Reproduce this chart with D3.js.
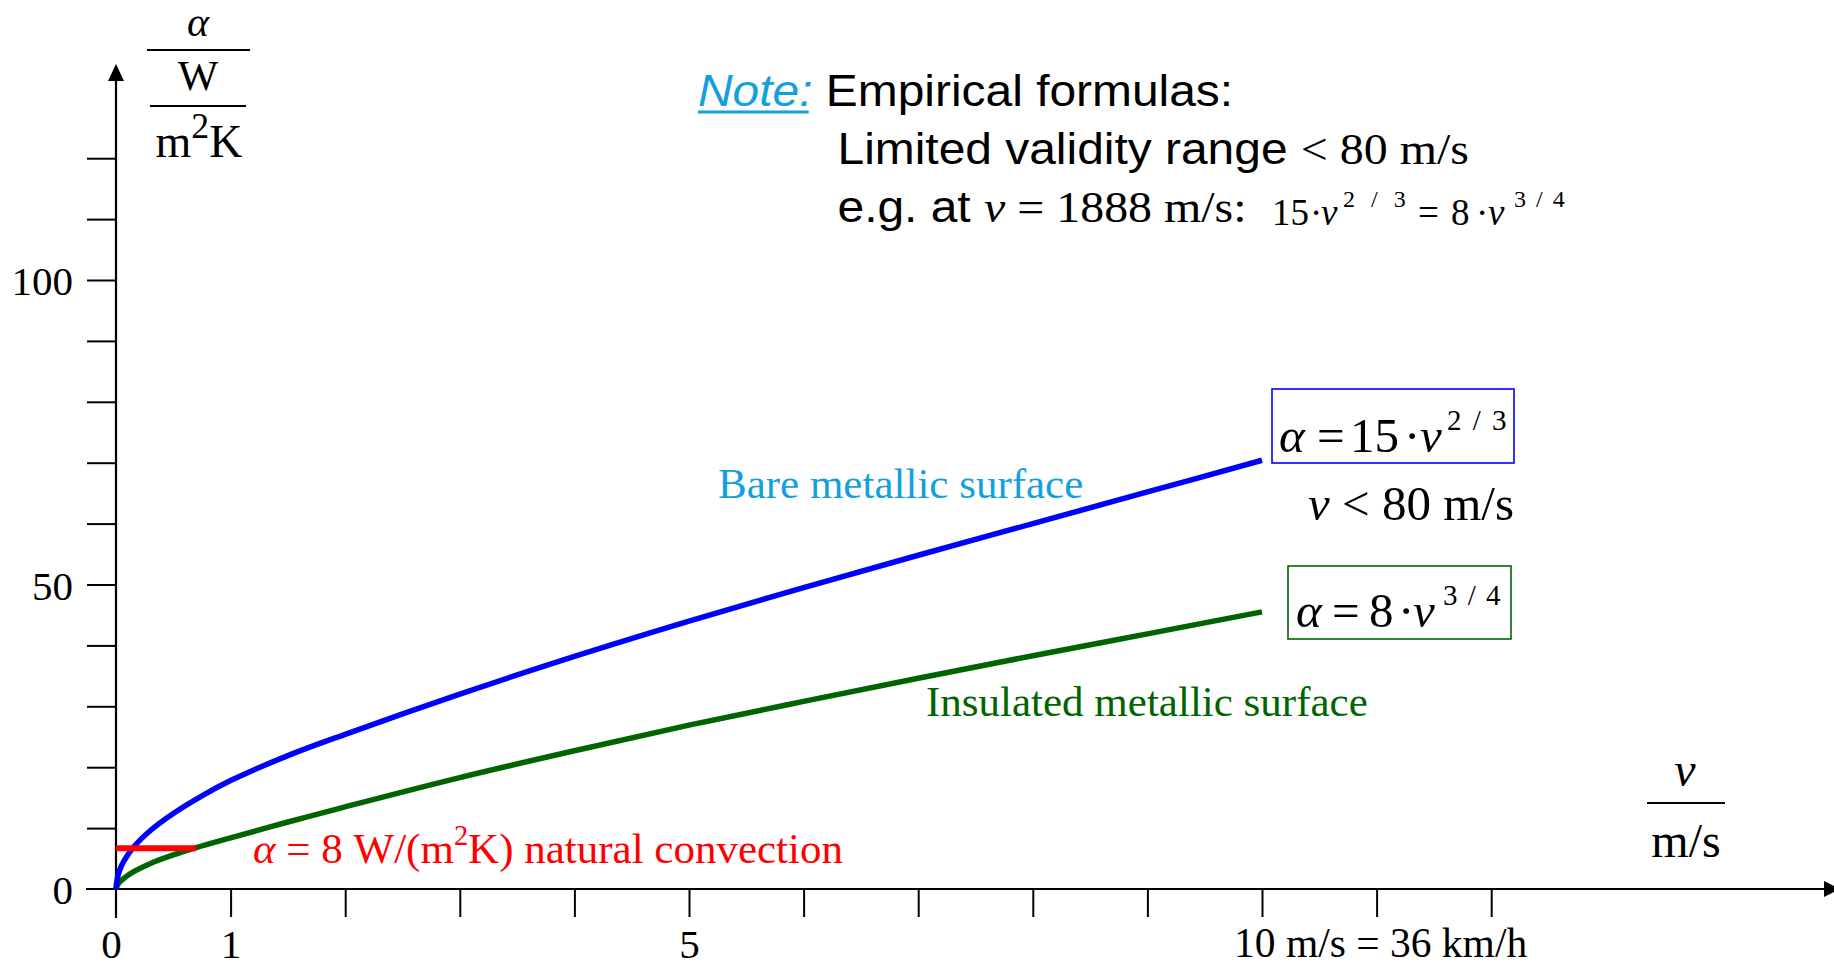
<!DOCTYPE html>
<html>
<head>
<meta charset="utf-8">
<script src="https://cdn.jsdelivr.net/npm/d3@7/dist/d3.min.js"></script>
<style>
  html, body { margin: 0; padding: 0; background: #fff; }
  svg { display: block; }
</style>
</head>
<body>
<svg id="chart" width="1834" height="969"></svg>
<script>
// ---------------- data ----------------
const bareSpeeds = [0, 0.01, 0.03, 0.07, 0.15, 0.3, 0.5, 0.75, 1, 1.5, 2, 3, 4, 5, 6, 7, 8, 9, 10];
const alphaBare = [0, 1.6, 3.0, 4.6, 6.8, 9.6, 12.4, 15.3, 17.8, 21.9, 25.4, 32.0, 38.2, 44.0, 49.5, 54.8, 60.0, 65.2, 70.4];
const insulatedSpeeds = [0, 0.01, 0.03, 0.08, 0.15, 0.3, 0.5, 0.7, 1, 1.5, 2, 3, 4, 5, 6, 7, 8, 9, 10];
const alphaInsulated = [0, 0.5, 1.1, 1.9, 2.8, 4.2, 5.6, 6.8, 8.4, 11.0, 13.5, 18.3, 22.7, 26.9, 30.8, 34.6, 38.3, 41.9, 45.5];
const naturalSpeeds = [0, 0.7];
const naturalAlpha = [6.7, 6.7];

const xTickValues = [1, 2, 3, 4, 5, 6, 7, 8, 9, 10, 11, 12];
const yTickValues = [10, 20, 30, 40, 50, 60, 70, 80, 90, 100, 110, 120];
const yTickLabels = [0, 50, 100];
const xTickLabels = [0, 1, 5];
const xSpecialLabel = { value: 10, text: "10 m/s = 36 km/h" };

// ---------------- setup ----------------
const SERIF = "'Liberation Serif', 'Times New Roman', serif";
const SANS = "'Liberation Sans', Arial, sans-serif";
const BLUE = "#0000ff", GREEN = "#006400", RED = "#ff0000", LIGHTBLUE = "#13a0dc";

const svg = d3.select("#chart");
const x = d3.scaleLinear().domain([0, 12]).range([116, 116 + 12 * 114.6]);
const y = d3.scaleLinear().domain([0, 120]).range([889, 889 - 120 * 6.09]);

// flowing math-like text with italics and superscripts
function mathText(parent, px, py, size, anchor, color, parts, family) {
  const t = parent.append("text")
    .attr("x", px).attr("y", py)
    .attr("font-family", family || SERIF)
    .attr("font-size", size)
    .attr("text-anchor", anchor)
    .attr("fill", color);
  let raised = false;
  parts.forEach(p => {
    const s = t.append("tspan").text(p.t);
    if (p.italic) s.attr("font-style", "italic");
    if (p.family) s.attr("font-family", p.family);
    let dy = 0;
    if (p.sup && !raised) { dy = -0.42 * size; raised = true; }
    else if (!p.sup && raised) { dy = 0.42 * size; raised = false; }
    if (dy) s.attr("dy", dy);
    if (p.sup) s.attr("font-size", size * (p.supScale || 0.62));
    if (p.dx) s.attr("dx", p.dx);
    if (p.fill) s.attr("fill", p.fill);
  });
  return t;
}
// individually placed pieces of a formula
function placedFormula(parent, baseline, size, color, parts) {
  const g = parent.append("g").attr("fill", color).attr("font-family", SERIF);
  parts.forEach(p => {
    const t = g.append("text")
      .attr("x", p.x)
      .attr("y", baseline - (p.raise || 0))
      .attr("font-size", p.fs || size)
      .text(p.t);
    if (p.italic) t.attr("font-style", "italic");
    if (p.ls) t.attr("letter-spacing", p.ls);
  });
  return g;
}

// ---------------- axes ----------------
const yAxisTicks = svg.append("g")
  .attr("transform", `translate(${x(0)},0)`)
  .call(d3.axisLeft(y).tickValues(yTickValues).tickSize(29).tickFormat(""));
yAxisTicks.select(".domain").remove();
yAxisTicks.selectAll("line").attr("stroke", "#000").attr("stroke-width", 2);

const xAxisTicks = svg.append("g")
  .attr("transform", `translate(0,${y(0)})`)
  .call(d3.axisBottom(x).tickValues(xTickValues).tickSize(28).tickFormat(""));
xAxisTicks.select(".domain").remove();
xAxisTicks.selectAll("line").attr("stroke", "#000").attr("stroke-width", 2);

svg.append("line").attr("x1", x(0)).attr("x2", x(0)).attr("y1", y(0) + 29).attr("y2", 72)
  .attr("stroke", "#000").attr("stroke-width", 2.2);
svg.append("line").attr("x1", x(0) - 30).attr("x2", 1828).attr("y1", y(0)).attr("y2", y(0))
  .attr("stroke", "#000").attr("stroke-width", 2.2);
svg.append("path").attr("d", `M${x(0)},64 L${x(0) - 8},81 L${x(0) + 8},81 Z`).attr("fill", "#000");
svg.append("path").attr("d", `M1840,${y(0)} L1824,${y(0) - 8} L1824,${y(0) + 8} Z`).attr("fill", "#000");

const yLab = svg.append("g")
  .attr("transform", `translate(${x(0)},0)`)
  .call(d3.axisLeft(y).tickValues(yTickLabels).tickSize(0).tickPadding(43).tickFormat(d3.format("d")));
yLab.select(".domain").remove();
yLab.selectAll("text").attr("font-family", SERIF).attr("font-size", 41).attr("fill", "#000").attr("dy", "0.36em");

const xLab = svg.append("g")
  .attr("transform", `translate(0,${y(0)})`)
  .call(d3.axisBottom(x).tickValues(xTickLabels).tickSize(0).tickPadding(54).tickFormat(d3.format("d")));
xLab.select(".domain").remove();
xLab.selectAll("text").attr("font-family", SERIF).attr("font-size", 41).attr("fill", "#000").attr("dy", "0.36em");
xLab.selectAll(".tick").filter(d => d === 0).select("text").attr("dx", -5);
svg.append("text")
  .attr("x", x(xSpecialLabel.value) - 28).attr("y", 957)
  .attr("font-family", SERIF).attr("font-size", 41.5).attr("fill", "#000")
  .text(xSpecialLabel.text);

// ---------------- axis titles ----------------
mathText(svg, 198, 36, 42, "middle", "#000", [{ t: "α", italic: true }]);
svg.append("line").attr("x1", 147).attr("x2", 250).attr("y1", 50).attr("y2", 50).attr("stroke", "#000").attr("stroke-width", 2);
mathText(svg, 198, 90, 43, "middle", "#000", [{ t: "W" }]);
svg.append("line").attr("x1", 150).attr("x2", 246).attr("y1", 106).attr("y2", 106).attr("stroke", "#000").attr("stroke-width", 2);
mathText(svg, 199, 157, 46, "middle", "#000", [{ t: "m" }, { t: "2", sup: true, supScale: 0.78 }, { t: "K" }]);

mathText(svg, 1685, 786, 48, "middle", "#000", [{ t: "v", italic: true }]);
svg.append("line").attr("x1", 1647).attr("x2", 1725).attr("y1", 803).attr("y2", 803).attr("stroke", "#000").attr("stroke-width", 2);
mathText(svg, 1686, 857, 48, "middle", "#000", [{ t: "m/s" }]);

// ---------------- curves ----------------
const line = d3.line().x(d => x(d[0])).y(d => y(d[1])).curve(d3.curveCatmullRom.alpha(0.5));
svg.append("path").datum(insulatedSpeeds.map((v, i) => [v, alphaInsulated[i]]))
  .attr("d", line).attr("fill", "none").attr("stroke", GREEN).attr("stroke-width", 5.5);
svg.append("path").datum(bareSpeeds.map((v, i) => [v, alphaBare[i]]))
  .attr("d", line).attr("fill", "none").attr("stroke", BLUE).attr("stroke-width", 5.5);
svg.append("path").datum(naturalSpeeds.map((v, i) => [v, naturalAlpha[i]]))
  .attr("d", d3.line().x(d => x(d[0])).y(d => y(d[1]))).attr("fill", "none").attr("stroke", RED).attr("stroke-width", 6);

// ---------------- curve labels ----------------
svg.append("text").attr("x", 718).attr("y", 498).attr("font-family", SERIF).attr("font-size", 43)
  .attr("fill", LIGHTBLUE).text("Bare metallic surface");
svg.append("text").attr("x", 926).attr("y", 716).attr("font-family", SERIF).attr("font-size", 43)
  .attr("fill", GREEN).text("Insulated metallic surface");
mathText(svg, 253, 863, 43, "start", RED, [
  { t: "α", italic: true }, { t: " = 8 W/(m" }, { t: "2", sup: true, supScale: 0.66 }, { t: "K) natural convection" }
]);

// formula boxes
svg.append("rect").attr("x", 1272).attr("y", 389).attr("width", 242).attr("height", 74)
  .attr("fill", "none").attr("stroke", BLUE).attr("stroke-width", 1.6);
placedFormula(svg, 452, 49, "#000", [
  { t: "α", italic: true, x: 1279 }, { t: "=", x: 1317 }, { t: "15", x: 1350 }, { t: "·", x: 1404 },
  { t: "v", italic: true, x: 1420 }, { t: "2 / 3", x: 1447, fs: 29, raise: 22, ls: 2 }
]);
mathText(svg, 1514, 520, 49, "end", "#000", [
  { t: "v", italic: true }, { t: " < 80 m/s" }
]);
svg.append("rect").attr("x", 1288).attr("y", 566).attr("width", 223).attr("height", 73)
  .attr("fill", "none").attr("stroke", GREEN).attr("stroke-width", 1.6);
placedFormula(svg, 627, 49, "#000", [
  { t: "α", italic: true, x: 1296 }, { t: "=", x: 1332 }, { t: "8", x: 1369 }, { t: "·", x: 1398 },
  { t: "v", italic: true, x: 1413 }, { t: "3 / 4", x: 1443, fs: 29, raise: 22, ls: 1.5 }
]);

// ---------------- note ----------------
const note = svg.append("g").attr("transform", "translate(698,0) scale(1.065,1)");
mathText(note, 0, 106, 45, "start", "#000", [
  { t: "Note:", italic: true, fill: LIGHTBLUE }, { t: " Empirical formulas:" }
], SANS);
note.append("line").attr("x1", 0).attr("x2", 104).attr("y1", 112).attr("y2", 112)
  .attr("stroke", LIGHTBLUE).attr("stroke-width", 3);
mathText(note, 131, 164, 45, "start", "#000", [
  { t: "Limited validity range " }, { t: "< 80 m/s", family: SERIF }
], SANS);
mathText(note, 131, 222, 45, "start", "#000", [
  { t: "e.g. at " }, { t: "v", italic: true, family: SERIF }, { t: " = 1888 m/s:", family: SERIF }
], SANS);
placedFormula(svg, 225, 37, "#000", [
  { t: "15", x: 1272 }, { t: "·", x: 1310 }, { t: "v", italic: true, x: 1321 },
  { t: "2 / 3", x: 1343, fs: 24, raise: 18, ls: 5 },
  { t: "=", x: 1418 }, { t: "8", x: 1451 }, { t: "·", x: 1476 }, { t: "v", italic: true, x: 1488 },
  { t: "3 / 4", x: 1514, fs: 24, raise: 18, ls: 2 }
]);
</script>
</body>
</html>
